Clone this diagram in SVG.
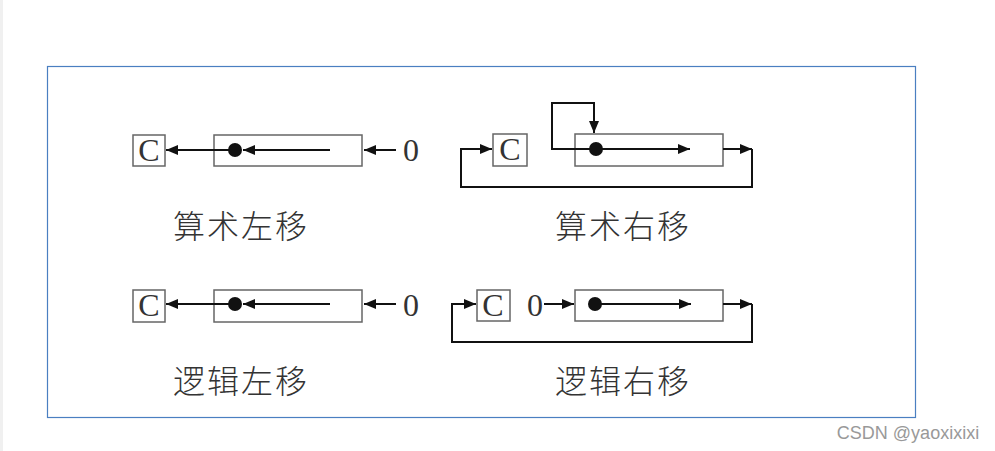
<svg xmlns="http://www.w3.org/2000/svg" width="995" height="451" viewBox="0 0 995 451">
<defs>
<marker id="ah" viewBox="0 0 12 10" refX="12" refY="5" markerWidth="13" markerHeight="10" markerUnits="userSpaceOnUse" orient="auto">
<path d="M0,0 L12,5 L0,10 Z" fill="#111"/>
</marker>
</defs>
<style>
.reg{fill:#fff;stroke:#666;stroke-width:1.5}
.ln{fill:none;stroke:#111;stroke-width:2}
.lbl{font-family:"Noto Sans CJK SC","Noto Sans CJK JP",sans-serif;font-size:32px;font-weight:300;letter-spacing:2px;fill:#333;text-anchor:middle}
.ser{font-family:"Liberation Serif",serif;font-size:32px;fill:#333;text-anchor:middle}
</style>
<rect x="0" y="0" width="995" height="451" fill="#fff"/>
<rect x="0" y="0" width="3" height="451" fill="#f0f0f0"/>
<rect id="frame" x="47.5" y="66.5" width="868" height="351" fill="none" stroke="#4a7fc1" stroke-width="1.2"/>

<g id="nodes">
<g id="asl">
<rect class="reg" x="133" y="135" width="32" height="31"/>
<text class="ser" x="149" y="161">C</text>
<rect class="reg" x="214" y="135" width="148" height="31"/>
<circle cx="235" cy="150" r="7" fill="#111"/>
<text class="ser" x="411" y="161">0</text>
<text class="lbl" x="241" y="238">算术左移</text>
</g>
<g id="asr">
<rect class="reg" x="493" y="134" width="34" height="32"/>
<text class="ser" x="510" y="160">C</text>
<rect class="reg" x="575" y="134" width="148" height="32"/>
<circle cx="596" cy="149" r="7" fill="#111"/>
<text class="lbl" x="623" y="238">算术右移</text>
</g>
<g id="lsl">
<rect class="reg" x="133" y="290" width="32" height="32"/>
<text class="ser" x="149" y="316">C</text>
<rect class="reg" x="214" y="290" width="148" height="32"/>
<circle cx="235" cy="304" r="7" fill="#111"/>
<text class="ser" x="411" y="316">0</text>
<text class="lbl" x="241" y="393">逻辑左移</text>
</g>
<g id="lsr">
<rect class="reg" x="477" y="290" width="33" height="31"/>
<text class="ser" x="493" y="316">C</text>
<text class="ser" x="535" y="316">0</text>
<rect class="reg" x="575" y="290" width="148" height="31"/>
<circle cx="595" cy="304" r="7" fill="#111"/>
<text class="lbl" x="623" y="393">逻辑右移</text>
</g>
</g>

<g id="connectors">
<line class="ln" x1="330" y1="150" x2="243" y2="150" marker-end="url(#ah)"/>
<line class="ln" x1="230" y1="150" x2="166" y2="150" marker-end="url(#ah)"/>
<line class="ln" x1="396" y1="150" x2="364" y2="150" marker-end="url(#ah)"/>
<polyline class="ln" points="596,149 552,149 552,103 594,103 594,133" marker-end="url(#ah)"/>
<line class="ln" x1="600" y1="149" x2="690" y2="149" marker-end="url(#ah)"/>
<line class="ln" x1="723" y1="149" x2="752" y2="149" marker-end="url(#ah)"/>
<polyline class="ln" points="752,149 752,187 461,187 461,149 492,149" marker-end="url(#ah)"/>
<line class="ln" x1="330" y1="304" x2="243" y2="304" marker-end="url(#ah)"/>
<line class="ln" x1="230" y1="304" x2="166" y2="304" marker-end="url(#ah)"/>
<line class="ln" x1="396" y1="304" x2="364" y2="304" marker-end="url(#ah)"/>
<line class="ln" x1="544" y1="304" x2="574" y2="304" marker-end="url(#ah)"/>
<line class="ln" x1="600" y1="304" x2="691" y2="304" marker-end="url(#ah)"/>
<line class="ln" x1="723" y1="304" x2="752" y2="304" marker-end="url(#ah)"/>
<polyline class="ln" points="752,304 752,342 452,342 452,304 476,304" marker-end="url(#ah)"/>
</g>

<text x="908" y="439" font-family="Liberation Sans, Arial, sans-serif" font-size="18" fill="#999" text-anchor="middle">CSDN @yaoxixixi</text>
</svg>
